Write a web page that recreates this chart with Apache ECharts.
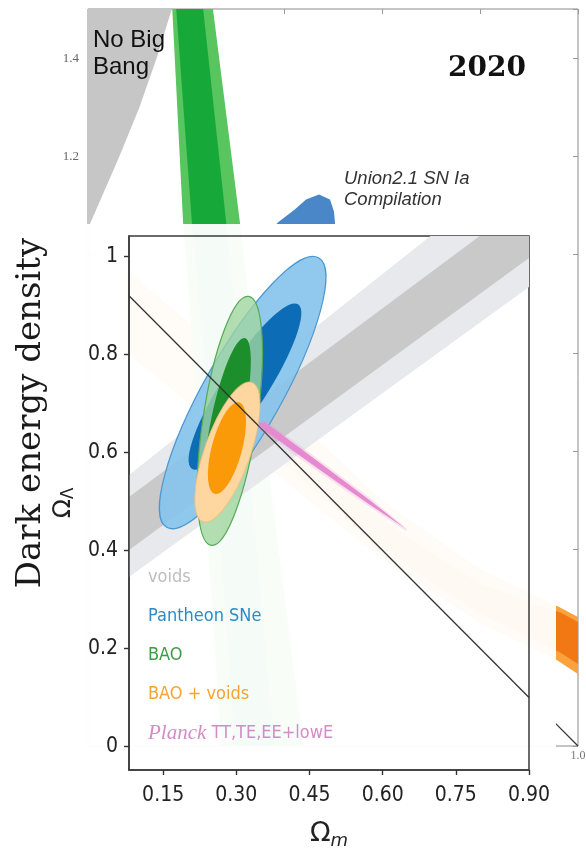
<!DOCTYPE html>
<html>
<head>
<meta charset="utf-8">
<script src="https://cdn.jsdelivr.net/npm/echarts@6/dist/echarts.min.js"></script>
<style>
  html, body { margin: 0; padding: 0; background: #ffffff; }
  #chart { width: 586px; height: 854px; }
</style>
</head>
<body>
<div id="chart"></div>
<script>
// ---------- Background panel: Union2.1 constraints (Ω_m, Ω_Λ) ----------
const bgXTickLabels = [1.0];
const bgYTickLabels = [1.2, 1.4];

const noBigBang = [[0, 1.5], [0.171, 1.5], [0.14, 1.4], [0.105, 1.3], [0.064, 1.2], [0.0055, 1.066], [0, 1.05]];
const bgBaoOuter = [[0.172, 1.5], [0.255, 1.5], [0.31, 1.066], [0.37, 0.55], [0.44, 0.0], [0.272, 0.0], [0.235, 0.55], [0.194, 1.066]];
const bgBaoInner = [[0.18, 1.5], [0.235, 1.5], [0.282, 1.066], [0.33, 0.55], [0.38, 0.0], [0.3, 0.0], [0.26, 0.55], [0.212, 1.066]];
const unionSn = [[0.388, 1.066], [0.422, 1.092], [0.445, 1.1125], [0.4714, 1.1227], [0.4939, 1.1125], [0.502, 1.088],
  [0.504, 1.066], [0.504, 1.062], [0.384, 1.062]];
const cmbOuter = [[0.08, 0.97], [0.3, 0.78], [0.6, 0.5], [0.8, 0.36], [0.9565, 0.2852], [1.0, 0.2628],
  [1.0, 0.1467], [0.9565, 0.1752], [0.8, 0.25], [0.6, 0.38], [0.3, 0.62], [0.08, 0.8]];
const cmbInner = [[0.3, 0.72], [0.6, 0.46], [0.8, 0.33], [0.9653, 0.271], [1.0, 0.2526],
  [1.0, 0.1671], [0.9653, 0.1895], [0.8, 0.27], [0.6, 0.4], [0.3, 0.66]];
const bgFlat = [[0.95, 0.05], [1, 0]];

// ---------- Inset: voids, Pantheon, BAO, Planck ----------
const insetXTicks = [0.15, 0.30, 0.45, 0.60, 0.75, 0.90];
const insetYTicks = [0, 0.2, 0.4, 0.6, 0.8, 1];

const voidsOuter = [[0.08, 0.554], [0.95, 1.241], [0.95, 0.974], [0.08, 0.346]];
const voidsInner = [[0.08, 0.509], [0.95, 1.154], [0.95, 1.0335], [0.08, 0.401]];

// contours: [Ω_m centre, Ω_Λ centre, semi-major, semi-minor, tilt in degrees]
const pantheon2s = [0.313, 0.7224, 0.316, 0.080, 60.5];
const pantheon1s = [0.3177, 0.7347, 0.200, 0.046, 57];
const bao2s = [0.2868, 0.6647, 0.257, 0.0553, 81.4];
const bao1s = [0.2818, 0.6663, 0.171, 0.033, 78];
const baoVoids2s = [0.2818, 0.601, 0.1507, 0.047, 70.6];
const baoVoids1s = [0.2808, 0.6092, 0.0966, 0.031, 75];

const planckHalo = [[0.343, 0.662], [0.3575, 0.6665], [0.432, 0.6135], [0.505, 0.559], [0.577, 0.505], [0.650, 0.444],
  [0.648, 0.440], [0.569, 0.4915], [0.495, 0.5425], [0.4215, 0.594], [0.347, 0.6465]];
const planckCore = [[0.3464, 0.6602], [0.3589, 0.6618], [0.4312, 0.6088], [0.5032, 0.5553], [0.5751, 0.5014], [0.6456, 0.4459],
  [0.5706, 0.4955], [0.497, 0.5467], [0.4234, 0.5984], [0.3503, 0.6504]];

const flatLine = [[0.08, 0.92], [0.90, 0.10]];
const flatLabelAt = [[0.789, 0.25]];

const legendItems = [
  { text: 'voids', color: '#bdbdbd' },
  { text: 'Pantheon SNe', color: '#2b8cc4' },
  { text: 'BAO', color: '#3f9a45' },
  { text: 'BAO + voids', color: '#f6a431' },
  { text: '{p|Planck} TT,TE,EE+lowE', color: '#d58cc6' }
];

const NARROW = "'Liberation Sans Narrow', 'DejaVu Sans Condensed', sans-serif";

function polygonSeries(name, pts, fill, axis, z, extra) {
  return {
    type: 'custom', name, xAxisIndex: axis, yAxisIndex: axis, z, clip: true, silent: true,
    data: [pts[0]],
    renderItem(params, api) {
      return {
        type: 'polygon',
        shape: { points: pts.map(p => api.coord(p)) },
        style: Object.assign({ fill: fill }, extra || {})
      };
    }
  };
}

function ellipseSeries(name, e, style, z) {
  return {
    type: 'custom', name, xAxisIndex: 1, yAxisIndex: 1, z, clip: true, silent: true,
    data: [e],
    renderItem(params, api) {
      const cx = api.value(0), cy = api.value(1), a = api.value(2), b = api.value(3);
      const t = api.value(4) * Math.PI / 180;
      const c = api.coord([cx, cy]);
      const pa = api.coord([cx + a * Math.cos(t), cy + a * Math.sin(t)]);
      const pb = api.coord([cx - b * Math.sin(t), cy + b * Math.cos(t)]);
      const rx = Math.hypot(pa[0] - c[0], pa[1] - c[1]);
      const ry = Math.hypot(pb[0] - c[0], pb[1] - c[1]);
      return {
        type: 'ellipse',
        x: c[0], y: c[1],
        rotation: Math.atan2(-(pa[1] - c[1]), pa[0] - c[0]),
        shape: { cx: 0, cy: 0, rx: rx, ry: ry },
        style: style
      };
    }
  };
}

const chart = echarts.init(document.getElementById('chart'), null, { renderer: 'canvas' });

const legendGraphics = legendItems.map((it, i) => ({
  type: 'text', x: 148, y: 577 + i * 39, z: 30, silent: true,
  style: {
    text: it.text, fill: it.color, font: '18px ' + NARROW,
    verticalAlign: 'middle', align: 'left',
    rich: { p: { fontFamily: "'Liberation Serif', serif", fontStyle: 'italic', fontSize: 21, fill: it.color } }
  }
}));

const option = {
  animation: false,
  backgroundColor: '#ffffff',
  grid: [
    { left: 88, top: 9, right: 8, bottom: 108, show: true, borderColor: '#8a8a8a', borderWidth: 1,
      backgroundColor: 'transparent', outerBoundsMode: 'none', containLabel: false, z: 0 },
    { left: 129, top: 236, right: 57, bottom: 84, show: true, borderColor: '#3a3a3a', borderWidth: 1.5,
      backgroundColor: 'transparent', outerBoundsMode: 'none', containLabel: false, z: 10 }
  ],
  xAxis: [
    { type: 'value', gridIndex: 0, min: 0, max: 1, interval: 0.2, position: 'bottom',
      axisLine: { show: false, onZero: false }, splitLine: { show: false }, axisTick: { show: false },
      axisLabel: { customValues: bgXTickLabels, formatter: v => v.toFixed(1), margin: 4,
        fontFamily: "'Liberation Serif', serif", fontSize: 12, color: '#777' } },
    { type: 'value', gridIndex: 1, min: 0.08, max: 0.9, position: 'bottom', z: 12,
      axisLine: { show: true, onZero: false, lineStyle: { color: '#3a3a3a', width: 1.5 } }, splitLine: { show: false },
      axisTick: { show: true, inside: false, length: 5, customValues: insetXTicks, lineStyle: { color: '#333', width: 1.4 } },
      axisLabel: { customValues: insetXTicks, formatter: v => v.toFixed(2), margin: 15,
        fontFamily: NARROW, fontSize: 21, color: '#222' },
      name: '{o|Ω}{m|m}', nameLocation: 'middle', nameGap: 48,
      nameTextStyle: { rich: {
        o: { fontFamily: "'DejaVu Sans', sans-serif", fontSize: 27, color: '#222', lineHeight: 32 },
        m: { fontFamily: "'DejaVu Sans', sans-serif", fontStyle: 'italic', fontSize: 18, color: '#222', verticalAlign: 'bottom', lineHeight: 16 }
      } } },
    { type: 'value', gridIndex: 0, min: 0, max: 1, interval: 0.2, position: 'top',
      axisLine: { show: false, onZero: false }, splitLine: { show: false }, axisLabel: { show: false },
      axisTick: { show: true, inside: true, length: 5, lineStyle: { color: '#999' } } }
  ],
  yAxis: [
    { type: 'value', gridIndex: 0, min: 0, max: 1.5, interval: 0.2, position: 'left',
      axisLine: { show: false, onZero: false }, splitLine: { show: false },
      axisTick: { show: true, inside: true, length: 5, lineStyle: { color: '#999' } },
      axisLabel: { customValues: bgYTickLabels, formatter: v => v.toFixed(1), margin: 9,
        fontFamily: "'Liberation Serif', serif", fontSize: 13, color: '#666' } },
    { type: 'value', gridIndex: 1, min: -0.048, max: 1.042, position: 'left', z: 12,
      axisLine: { show: true, onZero: false, lineStyle: { color: '#3a3a3a', width: 1.5 } }, splitLine: { show: false },
      axisTick: { show: true, inside: false, length: 5, customValues: insetYTicks, lineStyle: { color: '#333', width: 1.4 } },
      axisLabel: { customValues: insetYTicks, formatter: v => String(v), margin: 11,
        fontFamily: NARROW, fontSize: 21, color: '#222' },
      name: '{o|Ω}{l|Λ}', nameLocation: 'middle', nameGap: 51, nameRotate: 90,
      nameTextStyle: { rich: {
        o: { fontFamily: "'DejaVu Sans', sans-serif", fontSize: 25, color: '#222', lineHeight: 28 },
        l: { fontFamily: "'DejaVu Sans', sans-serif", fontSize: 17, color: '#222', verticalAlign: 'bottom', lineHeight: 15 }
      } } },
    { type: 'value', gridIndex: 0, min: 0, max: 1.5, interval: 0.2, position: 'right',
      axisLine: { show: false, onZero: false }, splitLine: { show: false }, axisLabel: { show: false },
      axisTick: { show: true, inside: true, length: 5, lineStyle: { color: '#999' } } }
  ],
  graphic: [
    // translucent sheet under the inset
    { type: 'rect', left: 0, top: 224, z: 5, silent: true,
      shape: { width: 556, height: 630 }, style: { fill: 'rgba(255,255,255,0.955)' } },
    { type: 'text', left: 93, top: 27, z: 30, silent: true,
      style: { text: 'No Big\nBang', font: "24px 'Liberation Sans', Arial, sans-serif", fill: '#111', lineHeight: 27 } },
    { type: 'text', x: 487, y: 69, z: 30, silent: true,
      style: { text: '2020', font: "bold 28px 'DejaVu Serif', serif", fill: '#111', align: 'center', verticalAlign: 'middle' } },
    { type: 'text', left: 344, top: 168, z: 30, silent: true,
      style: { text: 'Union2.1 SN Ia\nCompilation', font: "italic 18.5px 'Liberation Sans', Arial, sans-serif", fill: '#333', lineHeight: 21 } },
    { type: 'text', x: 31, y: 413, rotation: Math.PI / 2, z: 30, silent: true,
      style: { text: 'Dark energy density', font: "34px 'DejaVu Serif', serif", fill: '#1a1a1a', align: 'center', verticalAlign: 'middle' } }
  ].concat(legendGraphics),
  series: [
    // background panel
    polygonSeries('CMB 2σ', cmbOuter, '#f9a23e', 0, 1),
    polygonSeries('CMB 1σ', cmbInner, '#f27813', 0, 1),
    polygonSeries('BAO 2σ (Union2.1)', bgBaoOuter, '#58c55e', 0, 2),
    polygonSeries('BAO 1σ (Union2.1)', bgBaoInner, '#17a83a', 0, 2),
    polygonSeries('No Big Bang', noBigBang, '#c6c6c6', 0, 2),
    polygonSeries('Union2.1 SN Ia', unionSn, '#4a87c8', 0, 2),
    { type: 'line', name: 'Flat (Union2.1)', xAxisIndex: 0, yAxisIndex: 0, data: bgFlat, z: 3, silent: true,
      symbol: 'none', lineStyle: { color: '#333', width: 1.2 } },

    // inset
    polygonSeries('voids 2σ', voidsOuter, '#e7e9ec', 1, 10),
    polygonSeries('voids 1σ', voidsInner, '#c9c9c9', 1, 11),
    ellipseSeries('Pantheon SNe 2σ', pantheon2s, { fill: 'rgba(135,196,235,0.92)', stroke: '#4d97cf', lineWidth: 1.2 }, 12),
    ellipseSeries('Pantheon SNe 1σ', pantheon1s, { fill: '#0c6cb6' }, 13),
    ellipseSeries('BAO 2σ', bao2s, { fill: 'rgba(160,214,160,0.8)', stroke: '#55aa58', lineWidth: 1.2 }, 14),
    ellipseSeries('BAO 1σ', bao1s, { fill: '#1c8e2c' }, 15),
    ellipseSeries('BAO + voids 2σ', baoVoids2s, { fill: '#fdd6a0', stroke: 'rgba(240,190,120,0.8)', lineWidth: 1 }, 16),
    ellipseSeries('BAO + voids 1σ', baoVoids1s, { fill: '#fa9a08' }, 17),
    { type: 'line', name: 'Flat', xAxisIndex: 1, yAxisIndex: 1, data: flatLine, z: 18, silent: true,
      symbol: 'none', lineStyle: { color: '#333', width: 1.3 } },
    polygonSeries('Planck halo', planckHalo, 'rgba(232,150,212,0.25)', 1, 19),
    polygonSeries('Planck TT,TE,EE+lowE', planckCore, '#e58ad0', 1, 20),
    { type: 'scatter', name: 'Flat label', xAxisIndex: 1, yAxisIndex: 1, data: flatLabelAt, z: 21, silent: true,
      symbolSize: 0, itemStyle: { opacity: 0 },
      label: { show: true, position: 'inside', formatter: 'Flat', rotate: -45,
        fontFamily: NARROW, fontSize: 20, color: '#222' } }
  ]
};

chart.setOption(option);
</script>
</body>
</html>
